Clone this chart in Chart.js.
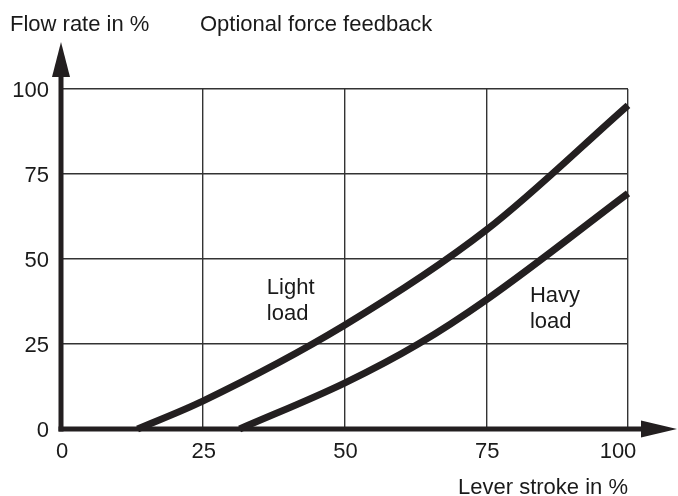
<!DOCTYPE html>
<html>
<head>
<meta charset="utf-8">
<script src="https://cdn.jsdelivr.net/npm/chart.js@4/dist/chart.umd.min.js"></script>
<style>
  html, body { margin: 0; padding: 0; background: #fff; }
  #c { display: block; }
</style>
</head>
<body>
<canvas id="c" width="678" height="496"></canvas>
<script>
// ---- data ----
const xTicks = [0, 25, 50, 75, 100];
const yTicks = [0, 25, 50, 75, 100];
const xTickLabels = ["0", "25", "50", "75", "100"];
const yTickLabels = ["0", "25", "50", "75", "100"];
const lightLoadX = [13.5, 25, 50, 75, 100];
const lightLoadY = [0, 8.2, 30.5, 58.5, 95.2];
const heavyLoadX = [31.5, 50, 63, 75, 100];
const heavyLoadY = [0, 13.5, 25, 38, 69.3];
const yTitle = "Flow rate in %";
const chartTitle = "Optional force feedback";
const xTitle = "Lever stroke in %";
const lightLabel = ["Light", "load"];
const heavyLabel = ["Havy", "load"];

const INK = '#231f20';
const FONT = '22px "Liberation Sans", Arial, Helvetica, sans-serif';

function pts(xs, ys) { return xs.map((x, i) => ({ x: x, y: ys[i] })); }

const decor = {
  id: 'decor',
  afterDatasetsDraw(chart) {
    const ctx = chart.ctx;
    const xs = chart.scales.x, ys = chart.scales.y;
    const ca = chart.chartArea;
    ctx.save();
    ctx.fillStyle = INK;
    ctx.strokeStyle = INK;
    // axes
    ctx.lineWidth = 5;
    ctx.lineCap = 'butt';
    const x0 = xs.getPixelForValue(0), y0 = ys.getPixelForValue(0);
    ctx.beginPath();
    ctx.moveTo(x0 - 2.5, y0);
    ctx.lineTo(ca.right + 16, y0);
    ctx.stroke();
    ctx.beginPath();
    ctx.moveTo(x0, y0 + 2.5);
    ctx.lineTo(x0, ca.top - 14);
    ctx.stroke();
    // arrows
    ctx.beginPath();
    ctx.moveTo(ca.right + 49, y0);
    ctx.lineTo(ca.right + 13, y0 - 8.5);
    ctx.lineTo(ca.right + 13, y0 + 8.5);
    ctx.closePath();
    ctx.fill();
    ctx.beginPath();
    ctx.moveTo(x0, ca.top - 47);
    ctx.lineTo(x0 - 9, ca.top - 12);
    ctx.lineTo(x0 + 9, ca.top - 12);
    ctx.closePath();
    ctx.fill();

    // tick labels
    ctx.font = FONT;
    ctx.fillStyle = '#1a1a1a';
    ctx.textBaseline = 'alphabetic';
    ctx.textAlign = 'center';
    xTicks.forEach((v, i) => {
      let px = xs.getPixelForValue(v);
      if (i === xTicks.length - 1) px -= 11;
      ctx.fillText(xTickLabels[i], px + 1, y0 + 29);
    });
    ctx.textAlign = 'right';
    ctx.textBaseline = 'middle';
    yTicks.forEach((v, i) => {
      ctx.fillText(yTickLabels[i], x0 - 12, ys.getPixelForValue(v) + 2);
    });

    // titles
    ctx.textBaseline = 'alphabetic';
    ctx.textAlign = 'left';
    ctx.fillText(yTitle, 10, 31);
    ctx.fillText(chartTitle, 200, 31);
    ctx.textAlign = 'right';
    ctx.fillText(xTitle, ca.right, 494);

    // curve labels
    ctx.textAlign = 'left';
    const lx = xs.getPixelForValue(36.3), ly = ys.getPixelForValue(39.7);
    ctx.fillText(lightLabel[0], lx, ly);
    ctx.fillText(lightLabel[1], lx, ly + 26);
    const hx = xs.getPixelForValue(82.7), hy = ys.getPixelForValue(37.4);
    ctx.fillText(heavyLabel[0], hx, hy);
    ctx.fillText(heavyLabel[1], hx, hy + 26);
    ctx.restore();
  }
};

const lineStyle = {
  borderColor: INK,
  borderWidth: 7,
  pointRadius: 0,
  pointHoverRadius: 0,
  fill: false,
  cubicInterpolationMode: 'monotone',
  borderCapStyle: 'butt',
  borderJoinStyle: 'round',
  clip: false
};

new Chart(document.getElementById('c'), {
  type: 'line',
  data: {
    datasets: [
      Object.assign({ label: 'Light load', data: pts(lightLoadX, lightLoadY) }, lineStyle),
      Object.assign({ label: 'Havy load', data: pts(heavyLoadX, heavyLoadY) }, lineStyle)
    ]
  },
  options: {
    responsive: false,
    animation: false,
    devicePixelRatio: 1,
    layout: { padding: { left: 61, right: 50, top: 89, bottom: 67 } },
    plugins: { legend: { display: false }, tooltip: { enabled: false } },
    scales: {
      x: {
        type: 'linear', min: 0, max: 100,
        afterBuildTicks: (s) => { s.ticks = xTicks.map(v => ({ value: v })); },
        ticks: { display: false },
        grid: { color: '#333', lineWidth: 1.4, drawTicks: false },
        border: { display: false }
      },
      y: {
        type: 'linear', min: 0, max: 100,
        afterBuildTicks: (s) => { s.ticks = yTicks.map(v => ({ value: v })); },
        ticks: { display: false },
        grid: { color: '#333', lineWidth: 1.4, drawTicks: false },
        border: { display: false }
      }
    }
  },
  plugins: [decor]
});
</script>
</body>
</html>
